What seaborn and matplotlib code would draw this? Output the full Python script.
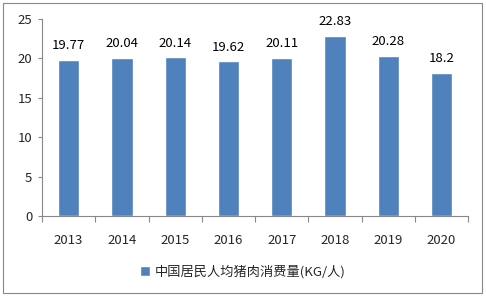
import matplotlib
matplotlib.use("Agg")
import matplotlib.pyplot as plt
import seaborn as sns
import pandas as pd
import numpy as np
from matplotlib.patches import Rectangle
from matplotlib.ticker import FixedLocator

years = ["2013", "2014", "2015", "2016", "2017", "2018", "2019", "2020"]
values = [19.77, 20.04, 20.14, 19.62, 20.11, 22.83, 20.28, 18.2]
labels = ["19.77", "20.04", "20.14", "19.62", "20.11", "22.83", "20.28", "18.2"]
series_name = "中国居民人均猪肉消费量(KG/人)"

sns.set_theme(style="white")
plt.rcParams['font.family'] = ['Noto Sans CJK SC', 'DejaVu Sans']

df = pd.DataFrame({"year": years, "value": values, "series": series_name})

fig = plt.figure(figsize=(4.86, 2.97), dpi=100)
ax = fig.add_axes([0.0864, 0.2727, 0.877, 0.663])
color = "#4F81BD"
sns.barplot(data=df, x="year", y="value", hue="series", palette=[color],
            width=0.4, saturation=1, ax=ax, legend=False)

fs = 9.5
for i, (v, t) in enumerate(zip(values, labels)):
    ax.text(i, v + 1.0, t, ha="center", va="bottom", fontsize=fs, color="#000000")

ax.set_ylim(0, 25)
ax.set_xlim(-0.5, len(years) - 0.5)
ax.set_yticks([0, 5, 10, 15, 20, 25])
ax.set_xlabel("")
ax.set_ylabel("")
ax.tick_params(axis="y", labelsize=fs, length=3, width=0.8, color="#888888", left=True, pad=4)
ax.tick_params(axis="x", which="major", labelsize=fs, length=0, pad=13)
ax.xaxis.set_minor_locator(FixedLocator(np.arange(-0.5, len(years), 1.0)))
ax.tick_params(axis="x", which="minor", length=4, width=0.8, color="#888888", bottom=True)
for s in ["top", "right"]:
    ax.spines[s].set_visible(False)
for s in ["left", "bottom"]:
    ax.spines[s].set_color("#888888")
    ax.spines[s].set_linewidth(0.8)

handle = Rectangle((0, 0), 1, 1, facecolor=color)
fig.legend([handle], [series_name], loc="center", bbox_to_anchor=(0.5, 0.085),
           frameon=False, fontsize=fs, handlelength=0.7, handleheight=0.7,
           handletextpad=0.4)

fig.patches.append(Rectangle((0.006, 0.013), 0.985, 0.977, transform=fig.transFigure,
                             fill=False, edgecolor="#888888", linewidth=0.8))

fig.savefig("out.png", dpi=100)
